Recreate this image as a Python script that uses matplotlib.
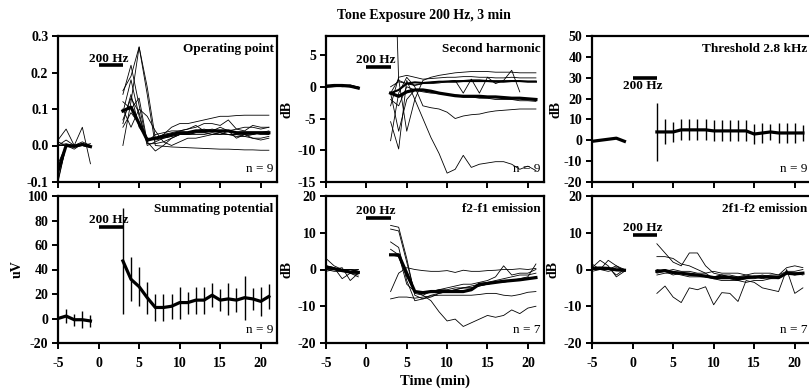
import matplotlib
matplotlib.use('Agg')
import matplotlib.pyplot as plt
import numpy as np

plt.rcParams['font.family'] = ['Liberation Serif', 'DejaVu Serif']
plt.rcParams['font.weight'] = 'bold'
plt.rcParams['axes.unicode_minus'] = False

# time axis (min)
t_pre = [-5, -4, -3, -2, -1]
t_post = list(range(3, 22))
nan = np.nan

# ---- Operating point (individual ears + mean)
op_pre = [
    [-0.1, 0.0, 0.0, 0.0, 0.0],
    [0.015, 0.045, 0.0, 0.05, -0.05],
    [0.0, 0.0, -0.01, 0.005, 0.0],
    [-0.05, 0.0, 0.0, 0.0, 0.0],
    [0.0, 0.015, 0.0, 0.0, 0.005],
    [-0.095, 0.0, 0.0, 0.0, -0.005],
    [0.01, 0.0, 0.0, 0.01, 0.0],
    [0.0, 0.0, -0.005, 0.0, 0.0],
    [0.0, 0.005, 0.0, 0.0, -0.005],
]
op_post = [
    [0.15, 0.19, 0.27, 0.14, 0.0, -0.002, -0.004, -0.005, -0.006, -0.007, -0.008, -0.009, -0.01, -0.01, -0.011, -0.012, -0.012, -0.013, -0.013],
    [0.0, 0.12, 0.27, 0.16, 0.02, 0.03, 0.05, 0.06, 0.06, 0.065, 0.07, 0.075, 0.08, 0.08, 0.082, 0.083, 0.083, 0.083, 0.083],
    [0.06, 0.14, 0.05, 0.02, 0.02, 0.03, 0.035, 0.04, 0.045, 0.05, 0.06, 0.06, 0.055, 0.07, 0.045, 0.05, 0.05, 0.045, 0.05],
    [0.09, 0.18, 0.08, 0.01, -0.015, 0.0, 0.02, 0.03, 0.035, 0.04, 0.045, 0.04, 0.05, 0.04, 0.045, 0.04, 0.055, 0.05, 0.05],
    [0.12, 0.1, 0.13, 0.01, 0.03, 0.035, 0.04, 0.04, 0.045, 0.055, 0.04, 0.045, 0.04, 0.04, 0.035, 0.03, 0.03, 0.035, 0.04],
    [0.07, 0.13, 0.09, 0.0, 0.01, 0.02, 0.025, 0.03, 0.03, 0.035, 0.035, 0.03, 0.035, 0.03, 0.03, 0.025, 0.03, 0.035, 0.03],
    [0.1, 0.05, 0.1, 0.08, 0.04, 0.01, 0.0, 0.01, 0.02, 0.02, 0.025, 0.03, 0.03, 0.04, 0.02, 0.03, 0.02, 0.015, 0.02],
    [0.14, 0.22, 0.11, 0.005, 0.005, 0.01, 0.02, 0.03, 0.03, 0.03, 0.03, 0.035, 0.03, 0.03, 0.025, 0.025, 0.02, 0.02, 0.025],
    [0.05, 0.09, 0.06, 0.02, 0.015, 0.02, 0.025, 0.03, 0.03, 0.035, 0.035, 0.04, 0.035, 0.03, 0.03, 0.03, 0.035, 0.03, 0.03],
]
op_mean_pre = [-0.07, 0.0, -0.002, 0.003, -0.003]
op_mean_post = [0.095, 0.105, 0.06, 0.015, 0.02, 0.025, 0.03, 0.035, 0.035, 0.04, 0.04, 0.04, 0.04, 0.04, 0.035, 0.035, 0.035, 0.035, 0.035]

# ---- Second harmonic (dB)
sh_pre = [
    [0.2, 0.1, 0.2, 0.1, -0.3],
    [0.0, 0.2, 0.3, 0.2, 0.0],
    [0.1, 0.3, 0.2, 0.0, -0.2],
    [-0.1, 0.0, 0.1, 0.1, -0.1],
    [0.2, 0.2, 0.1, 0.2, -0.3],
    [0.0, 0.1, 0.2, 0.3, -0.1],
    [0.1, 0.2, 0.0, 0.1, -0.2],
    [0.0, 0.3, 0.3, 0.0, -0.3],
    [0.2, 0.1, 0.2, 0.2, -0.1],
]
sh_post = [
    [-8.5, -1, 1.5, 0, -3, -3.3, -3.5, -4, -5, -4.6, -4.4, -4.3, -4, -3.8, -3.7, -3.6, -3.5, -3.5, -3.5],
    [-5.5, -9.8, 1, -2, -5, -8, -10.5, -13.6, -13, -10.8, -12.7, -12.2, -12, -11.8, -11.8, -12.2, -13, -12.5, -13.2],
    [-1, 1.2, -7, -2, 1, 1.5, 1.8, 2, 2.2, 2.3, 2.4, 2.4, 2.4, 2.3, 2.3, 2.3, 2.2, 2.2, 2.2],
    [-3, 1.5, 1.8, 1.5, 1.2, 1.3, 1.4, 1.5, 1.5, 1.6, 1.6, 1.5, 1.5, 1.4, 1.4, 1.5, 1.4, 1.4, 1.4],
    [0, 0.8, 0.5, 0.2, 0.5, 0.5, 0.6, 0.8, 1.0, -1.0, 1.2, -1.0, 1.5, 0.5, 1.0, 2.6, -0.8, nan, nan],
    [40, 1, 0.5, 0.3, 0.5, 0.7, 0.8, 0.9, 1, 1, 1.1, 1.1, 1, 1, 1, 1, 0.9, 0.9, 0.9],
    [-2, -3, 0, -0.5, -0.8, -1, -1, -1.2, -1.3, -1.4, -1.4, -1.5, -1.6, -1.6, -1.7, -1.8, -1.8, -1.9, -2],
    [-1, -7, -2, -0.5, -0.5, -0.8, -1, -1.2, -1.4, -1.6, -1.6, -1.8, -1.8, -2, -2, -2, -2.2, -2.2, -2.3],
]
sh_bold_post = [-1, -0.5, 0.5, 0.7, 0.6, 0.7, 0.8, 0.8, 0.8, 0.9, 0.9, 0.9, 0.9, 0.8, 0.8, 0.9, 0.9, 0.8, 0.8]
sh_mean_pre = [0.1, 0.2, 0.2, 0.1, -0.2]
sh_mean_post = [-1, -1.5, -0.8, -0.5, -0.5, -0.7, -1, -1.2, -1.4, -1.5, -1.5, -1.5, -1.6, -1.6, -1.7, -1.8, -1.8, -1.9, -2]

# ---- Threshold 2.8 kHz (mean +/- sd)
th_mean_pre = [-0.5, 0.0, 0.5, 1.0, -0.5]
th_mean_post = [4, 4, 4, 5, 5, 5, 5, 4.5, 4.5, 4.5, 4.5, 4.5, 3, 3.5, 4, 3.5, 3.5, 3.5, 3.5]
th_err_post = [14, 6, 5, 5, 5, 5, 5, 5, 5, 5, 5, 5, 5, 5, 4, 5, 5, 5, 4]

# ---- Summating potential (uV, mean +/- sd)
sp_mean_pre = [0, 2, -1, -1, -2]
sp_err_pre = [0, 6, 5, 7, 5]
sp_mean_post = [47, 32, 26, 17, 9, 9, 10, 13, 13, 15, 15, 19, 15, 16, 15, 17, 16, 14, 18]
sp_err_post = [43, 18, 16, 13, 11, 11, 10, 13, 9, 11, 11, 10, 9, 13, 10, 18, 9, 12, 10]

# ---- f2-f1 emission (dB)
fd_pre = [
    [3, 1, 0, -1, -1.5],
    [1, 0.5, -2.5, -1, -2],
    [0, 0, 0.5, -3, -1],
    [0.5, 0, 0, 0, 0],
    [-0.5, 0, 0, -0.5, 0],
    [1, 0.5, 0, 0, -0.5],
    [0, -0.5, -0.5, 0, -0.5],
]
fd_post = [
    [12, 11.5, 3, -7, -8, -7, -6.5, -6, -5.5, -5, -4.5, -4, -3.5, -3, -2.5, -2, -1.5, -1.5, -1],
    [11, 10.5, 2, -6.5, -7, -6, -5.5, -5, -4.5, -4, -4, -3.5, -3, -2, 1, -1.5, -1, -1, 0],
    [7.5, 6, -3, -8.5, -8, -7.5, -6.5, -6, -5.5, -5, -5, -4.5, -4, -3.5, -3, -3, -2.5, -2, 1.5],
    [-6, -1, 0.5, 0, -0.3, -0.5, -0.5, -0.3, -0.8, -0.2, -0.5, -0.5, -0.3, -0.2, 0, 0, 0.2, 0, 0.3],
    [-8, -7.5, -7.5, -7.8, -7.5, -7.2, -7, -7, -7, -7, -7, -6.8, -6.5, -6.5, -7, -7.2, -6.8, -6.2, -6],
    [5.5, 4, -4, -6, -7, -8.5, -11.5, -14, -13.5, -15.5, -14.5, -13.5, -12.5, -13, -12.5, -11, -12, -10.5, -10],
    [4, 3.5, -2, -6, -6.5, -6, -5.5, -5.5, -5, -5, -5, -4.5, -4, -3.5, -3.5, -3, -3, -2.5, -2],
]
fd_mean_pre = [0.7, 0.2, -0.3, -0.7, -0.8]
fd_mean_post = [4, 4, -1, -6, -6.3, -6, -6, -6, -6, -6, -5.5, -4, -3.8, -3.5, -3.2, -3, -2.8, -2.5, -2.2]

# ---- 2f1-f2 emission (dB)
cd_pre = [
    [1.5, 0, 2.5, 1, 0],
    [0.5, 2.5, 1, -2, -0.5],
    [0, 0.5, 0, 1, -0.5],
    [0, 0, 0.5, -1.5, 0],
    [-0.5, 0, 0, 0, 0],
    [0, 0, -0.5, 0, -0.5],
    [0.5, 0, 0, 0.5, 0],
]
cd_post = [
    [7, 4.5, 2, 1, 4.5, 4.5, 1, -1, -1.5, -2, -2.5, -2.5, -2, -2.5, -2, -2, -1, -1, -1.5],
    [3.5, 3.5, 3, 1.5, 1, 0, -1, -2.5, -3, -3, -3, -3.5, -3, -3, -2.5, -2, -1, -1, -1],
    [-6.5, -4.5, -7.5, -9, -5, -5.5, -4.7, -9.6, -6.3, -6.5, -8.7, -3, -3.5, -5, -5.5, -6, 0, -6.5, -5],
    [-0.5, 0, -1, -1, -1.5, -1.5, -2, -2, -1.5, -1.5, -2, -2, -2, -1.5, -2, -2, -1, -1, -1],
    [-1.5, -1, -1, -1.5, -2, -2, -2, -2.5, -2.5, -2.5, -3, -2.5, -2.5, -2, -2.5, -2.5, -1, -1.5, -1],
    [0, -0.5, 0, -0.5, -0.5, -1, -1, -0.5, -1, -1, -1, -1.5, -1, -1, -1, -1.5, -0.5, -0.5, 0],
    [-1, -0.5, -1.5, -1, -1, -1.5, -2, -2, -1.5, -2, -2, -1.5, -2, -2, -1.5, -1.5, 0.5, 1, 0.5],
]
cd_mean_pre = [0.3, 0.4, 0.3, -0.1, -0.2]
cd_mean_post = [-0.5, -0.3, -0.8, -1, -1.3, -1.5, -1.8, -2.2, -2.2, -2.2, -2.5, -2.2, -2, -2, -2, -2.2, -1, -1.2, -1]


W, H = 809, 390
fig = plt.figure(figsize=(W / 100, H / 100), dpi=100)

cols = [(58, 277), (326, 544), (592, 811)]
rows = [(36, 182), (196, 343)]


def make_ax(r, c):
    x0, x1 = cols[c]
    y0, y1 = rows[r]
    ax = fig.add_axes([x0 / W, 1 - y1 / H, (x1 - x0) / W, (y1 - y0) / H])
    ax.set_xlim(-5, 22)
    ax.set_xticks([-5, 0, 5, 10, 15, 20])
    for s in ax.spines.values():
        s.set_linewidth(1.6)
    ax.tick_params(direction='out', length=4, width=1.4, labelsize=10)
    ax.tick_params(axis='x', pad=6)
    ax.tick_params(axis='y', pad=3)
    for lb in ax.get_xticklabels() + ax.get_yticklabels():
        lb.set_fontweight('bold')
    if r == 0:
        ax.set_xticklabels([])
    return ax


def spaghetti(ax, pre, post, mean_pre, mean_post):
    for ln in pre:
        ax.plot(t_pre, ln, color='black', lw=0.6)
    for ln in post:
        ax.plot(t_post, ln, color='black', lw=0.6)
    ax.plot(t_pre, mean_pre, color='black', lw=2.3)
    ax.plot(t_post, mean_post, color='black', lw=2.3)


def tone_bar(ax, y, text_above=True):
    ax.plot([0, 3], [y, y], color='black', lw=2.6, solid_capstyle='butt')
    if text_above:
        ax.annotate('200 Hz', (1.2, y), xytext=(0, 0.5), textcoords='offset points',
                    ha='center', va='bottom', fontsize=9.5, fontweight='bold')
    else:
        ax.annotate('200 Hz', (1.2, y), xytext=(0, -1.5), textcoords='offset points',
                    ha='center', va='top', fontsize=9.5, fontweight='bold')


def labels(ax, title, n):
    ax.text(0.985, 0.95, title, transform=ax.transAxes, ha='right', va='top',
            fontsize=9.5, fontweight='bold')
    ax.text(0.985, 0.05, n, transform=ax.transAxes, ha='right', va='bottom',
            fontsize=9.5, fontweight='normal')


# Operating point
ax = make_ax(0, 0)
spaghetti(ax, op_pre, op_post, op_mean_pre, op_mean_post)
ax.set_ylim(-0.1, 0.3)
ax.set_yticks([-0.1, 0.0, 0.1, 0.2, 0.3])
ax.set_yticklabels(['-0.1', '0.0', '0.1', '0.2', '0.3'], fontweight='bold')
tone_bar(ax, 0.22)
labels(ax, 'Operating point', 'n = 9')

# Second harmonic
ax = make_ax(0, 1)
spaghetti(ax, sh_pre, sh_post, sh_mean_pre, sh_mean_post)
ax.plot(t_post, sh_bold_post, color='black', lw=1.5)
ax.set_ylim(-15, 8)
ax.set_yticks([-15, -10, -5, 0, 5])
ax.set_ylabel('dB', fontsize=10, fontweight='bold', labelpad=3)
tone_bar(ax, 3.1)
labels(ax, 'Second harmonic', 'n = 9')

# Threshold
ax = make_ax(0, 2)
ax.plot(t_pre, th_mean_pre, color='black', lw=2.3)
ax.errorbar(t_post, th_mean_post, yerr=th_err_post, color='black', lw=2.3,
            elinewidth=1.0, capsize=0)
ax.set_ylim(-20, 50)
ax.set_yticks([-20, -10, 0, 10, 20, 30, 40, 50])
ax.set_ylabel('dB', fontsize=10, fontweight='bold', labelpad=1)
tone_bar(ax, 30, text_above=False)
labels(ax, 'Threshold 2.8 kHz', 'n = 9')

# Summating potential
ax = make_ax(1, 0)
ax.errorbar(t_pre, sp_mean_pre, yerr=sp_err_pre, color='black', lw=2.3,
            elinewidth=1.0, capsize=0)
ax.errorbar(t_post, sp_mean_post, yerr=sp_err_post, color='black', lw=2.3,
            elinewidth=1.0, capsize=0)
ax.set_ylim(-20, 100)
ax.set_yticks([-20, 0, 20, 40, 60, 80, 100])
ax.set_ylabel('uV', fontsize=10, fontweight='bold', labelpad=3)
tone_bar(ax, 75)
labels(ax, 'Summating potential', 'n = 9')

# f2-f1 emission
ax = make_ax(1, 1)
spaghetti(ax, fd_pre, fd_post, fd_mean_pre, fd_mean_post)
ax.set_ylim(-20, 20)
ax.set_yticks([-20, -10, 0, 10, 20])
ax.set_ylabel('dB', fontsize=10, fontweight='bold', labelpad=3)
ax.set_xlabel('Time (min)', fontsize=10.5, fontweight='bold', labelpad=3)
tone_bar(ax, 14)
labels(ax, 'f2-f1 emission', 'n = 7')

# 2f1-f2 emission
ax = make_ax(1, 2)
spaghetti(ax, cd_pre, cd_post, cd_mean_pre, cd_mean_post)
ax.set_ylim(-20, 20)
ax.set_yticks([-20, -10, 0, 10, 20])
ax.set_ylabel('dB', fontsize=10, fontweight='bold', labelpad=3)
tone_bar(ax, 9.5)
labels(ax, '2f1-f2 emission', 'n = 7')

fig.text(424 / W, 1 - 15 / H, 'Tone Exposure 200 Hz, 3 min', ha='center', va='center',
         fontsize=10, fontweight='bold')

fig.savefig('out.png', dpi=100)
